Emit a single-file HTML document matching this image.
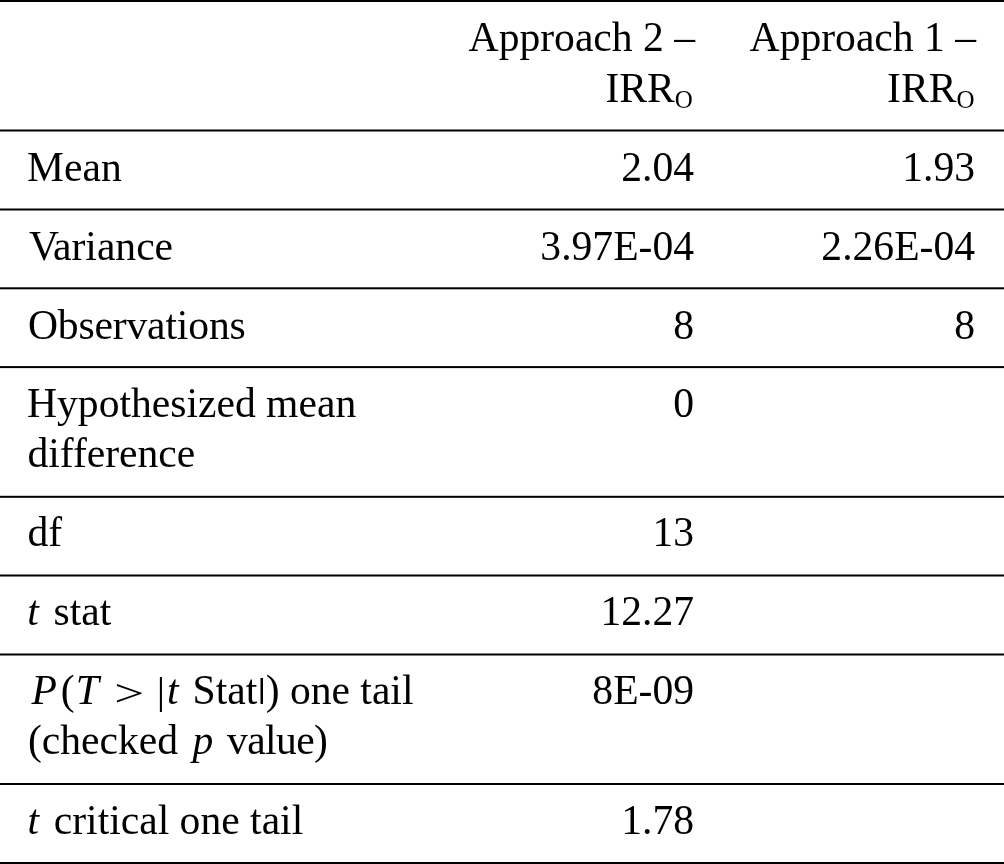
<!DOCTYPE html>
<html><head><meta charset="utf-8">
<title>t-Test table</title>
<style>
html,body{margin:0;padding:0;background:#fff;}
body{width:1004px;height:864px;overflow:hidden;position:relative;}
svg{position:absolute;left:0;top:0;display:block;}
text{font-family:"Liberation Serif","Times New Roman",Times,serif;font-size:41.6px;fill:#000;white-space:pre;}
.i{font-style:italic;}
.e{text-anchor:end;}
.s{font-size:25px;}
</style></head><body>
<svg width="1004" height="864" viewBox="0 0 1004 864">
<g fill="#000">
<rect x="0" y="0.00" width="1004" height="2"/>
<rect x="0" y="129.50" width="1004" height="2"/>
<rect x="0" y="208.50" width="1004" height="2"/>
<rect x="0" y="287.30" width="1004" height="2"/>
<rect x="0" y="366.10" width="1004" height="2"/>
<rect x="0" y="495.80" width="1004" height="2"/>
<rect x="0" y="574.50" width="1004" height="2"/>
<rect x="0" y="653.50" width="1004" height="2"/>
<rect x="0" y="783.00" width="1004" height="2"/>
<rect x="0" y="862.00" width="1004" height="2"/>
</g>
<text class="e" x="695.00" y="51.00">Approach 2 –</text>
<text class="e" x="692.80" y="101.60">IRR<tspan class="s" dy="6.1">O</tspan></text>
<text class="e" x="976.00" y="51.00">Approach 1 –</text>
<text class="e" x="974.50" y="101.60">IRR<tspan class="s" dy="6.1">O</tspan></text>
<text x="27.00" y="180.70">Mean</text>
<text class="e" x="694.00" y="180.70">2.04</text>
<text class="e" x="975.00" y="180.70">1.93</text>
<text x="28.90" y="259.60">V<tspan dx="-1.3">ariance</tspan></text>
<text class="e" x="694.00" y="259.60">3.97E-04</text>
<text class="e" x="975.00" y="259.60">2.26E-04</text>
<text x="27.90" y="338.50" letter-spacing="-0.15">Observations</text>
<text class="e" x="694.00" y="338.50">8</text>
<text class="e" x="975.00" y="338.50">8</text>
<text x="27.00" y="417.30">Hypothesized mean</text>
<text x="27.50" y="467.40">difference</text>
<text class="e" x="694.00" y="417.30">0</text>
<text x="27.50" y="546.30">df</text>
<text class="e" x="694.00" y="546.30">13</text>
<text x="27.20" y="625.00"><tspan class="i">t</tspan><tspan dx="4.3"> stat</tspan></text>
<text class="e" x="694.00" y="625.00">12.27</text>
<text class="i" x="31.50" y="704.30">P</text>
<text x="36.80" y="704.30"><tspan dx="24">(</tspan></text>
<text class="i" x="35.70" y="704.30"><tspan dx="40">T</tspan></text>
<text x="0.00" y="0.00" transform="translate(114.2,705.60) scale(1.27,0.92)">&gt;</text>
<text x="0.00" y="0.00" transform="translate(156.84,703.8) scale(1,0.91)">|</text>
<text class="i" x="167.00" y="704.30">t</text>
<text x="192.60" y="704.30">Stat</text>
<text x="0.00" y="0.00" transform="translate(256.8,698.2) scale(1.2,0.732)">|</text>
<text x="265.65" y="704.30">) one tail</text>
<text class="e" x="694.00" y="704.30">8E-09</text>
<text x="28.00" y="754.40">(checked </text>
<text class="i" x="192.40" y="754.40">p</text>
<text x="227.00" y="754.40" letter-spacing="-0.6">value)</text>
<text x="27.60" y="833.70"><tspan class="i">t</tspan><tspan dx="4.2"> critical one tail</tspan></text>
<text class="e" x="694.00" y="833.70">1.78</text>
</svg>
</body></html>
